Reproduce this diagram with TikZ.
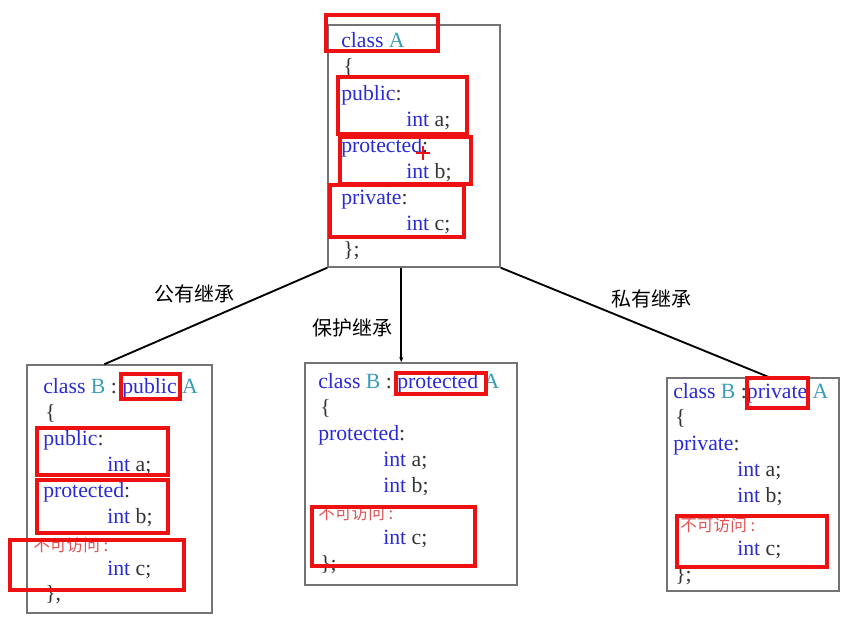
\documentclass[tikz,border=0pt]{standalone}
\usepackage{fontspec}
\setmainfont{Liberation Serif}
\newfontfamily\cjk{Noto Sans CJK SC}
\usepackage{xcolor}
\usetikzlibrary{calc,positioning,fit,arrows.meta}
\definecolor{kwblue}{HTML}{2A2AD6}
\definecolor{idteal}{HTML}{3A9DB8}
\definecolor{txtdark}{HTML}{333333}
\definecolor{hlred}{HTML}{EE1111}
\definecolor{nored}{HTML}{E05555}
\newcommand{\kw}[1]{\textcolor{kwblue}{#1}}
\newcommand{\nm}[1]{\textcolor{idteal}{#1}}

\begin{document}
\begin{tikzpicture}[x=0.75pt,y=-0.75pt]
  \tikzset{ cls/.style={draw=black!55,line width=1.1pt,inner sep=0pt},
    ln/.style={anchor=base west,inner sep=0pt,text=txtdark,font=\fontsize{16.3}{18}\selectfont},
    na/.style={anchor=base west,inner sep=0pt,text=nored,font=\cjk\fontsize{12.5}{14}\selectfont},
    lbl/.style={inner sep=0pt,font=\cjk\fontsize{15}{17}\selectfont},
    hl/.style={draw=hlred,line width=2.6pt},
  }
  \useasboundingbox (0,0) rectangle (857,632);

  % the four class boxes
  \node[cls,fit={(328,25) (500,267)}] (A) {};
  \node[cls,fit={(27,365) (212,613)}] (B1) {};
  \node[cls,fit={(305,363) (517,585)}] (B2) {};
  \node[cls,fit={(667,378) (839,591)}] (B3) {};

  % class A
  \node[ln] (a0) at (341,47) {\kw{class} \nm{A}};
  \node[ln] (a1) at (343,73) {\{};
  \node[ln] (a2) at (341,100) {\kw{public}:};
  \node[ln] (a3) at (406,126) {\kw{int} a;};
  \node[ln] (a4) at (341,152) {\kw{protected}:};
  \node[ln] (a5) at (406,178) {\kw{int} b;};
  \node[ln] (a6) at (341,204) {\kw{private}:};
  \node[ln] (a7) at (406,230) {\kw{int} c;};
  \node[ln] (a8) at (343,256) {\};};

  % class B : public A
  \node[ln] (p0) at (43,393) {\kw{class} \nm{B} : \kw{public} \nm{A}};
  \node[ln] (p1) at (45,419) {\{};
  \node[ln] (p2) at (43,445) {\kw{public}:};
  \node[ln] (p3) at (107,471) {\kw{int} a;};
  \node[ln] (p4) at (43,497) {\kw{protected}:};
  \node[ln] (p5) at (107,523) {\kw{int} b;};
  \node[na] (p6) at (33,551) {不可访问 :};
  \node[ln] (p7) at (107,575) {\kw{int} c;};
  \node[ln] (p8) at (45,600) {\},};

  % class B : protected A
  \node[ln] (q0) at (318,388) {\kw{class} \nm{B} : \kw{protected} \nm{A}};
  \node[ln] (q1) at (320,414) {\{};
  \node[ln] (q2) at (318,440) {\kw{protected}:};
  \node[ln] (q3) at (383,466) {\kw{int} a;};
  \node[ln] (q4) at (383,492) {\kw{int} b;};
  \node[na] (q5) at (318,519) {不可访问 :};
  \node[ln] (q6) at (383,544) {\kw{int} c;};
  \node[ln] (q7) at (320,570) {\};};

  % class B : private A
  \node[ln] (r0) at (673,398) {\kw{class} \nm{B} :\kw{private} \nm{A}};
  \node[ln] (r1) at (675,424) {\{};
  \node[ln] (r2) at (673,450) {\kw{private}:};
  \node[ln] (r3) at (737,476) {\kw{int} a;};
  \node[ln] (r4) at (737,502) {\kw{int} b;};
  \node[na] (r5) at (680,531) {不可访问 :};
  \node[ln] (r6) at (737,555) {\kw{int} c;};
  \node[ln] (r7) at (675,581) {\};};

  % the connection between the boxes
  \draw[line width=1.4pt] (A.south west) -- ($(B1.north west)+(78,0)$)
    node [lbl,pos=0.4,above left=3pt] {公有继承};
  \draw[line width=1.4pt,-{Stealth[length=4pt,width=3pt]}] ($(A.south west)+(74,0)$) -- ($(B2.north west)+(97,0)$)
    node [lbl,pos=0.64,left=6pt] {保护继承};
  \draw[line width=1.4pt] (A.south east) -- ($(B3.north west)+(103,0)$)
    node [lbl,pos=0.4,above right=3pt] {私有继承};

  % red marks
  \draw[hl] (326,15) rectangle (438,51);
  \draw[hl] (338,77) rectangle (467,134);
  \draw[hl] (340,137) rectangle (471,184);
  \draw[hl] (330,185) rectangle (464,237);
  \draw[hlred,line width=1.6pt] (416,153) -- (430,153) (423,146) -- (423,160);
  \draw[hl] (121,374) rectangle (180,399);
  \draw[hl] (37,428) rectangle (168,475);
  \draw[hl] (37,480) rectangle (168,533);
  \draw[hl] (10,540) rectangle (184,590);
  \draw[hl] (396,373) rectangle (486,394);
  \draw[hl] (312,507) rectangle (475,566);
  \draw[hl] (747,378) rectangle (808,408);
  \draw[hl] (677,516) rectangle (827,567);
\end{tikzpicture}
\end{document}
